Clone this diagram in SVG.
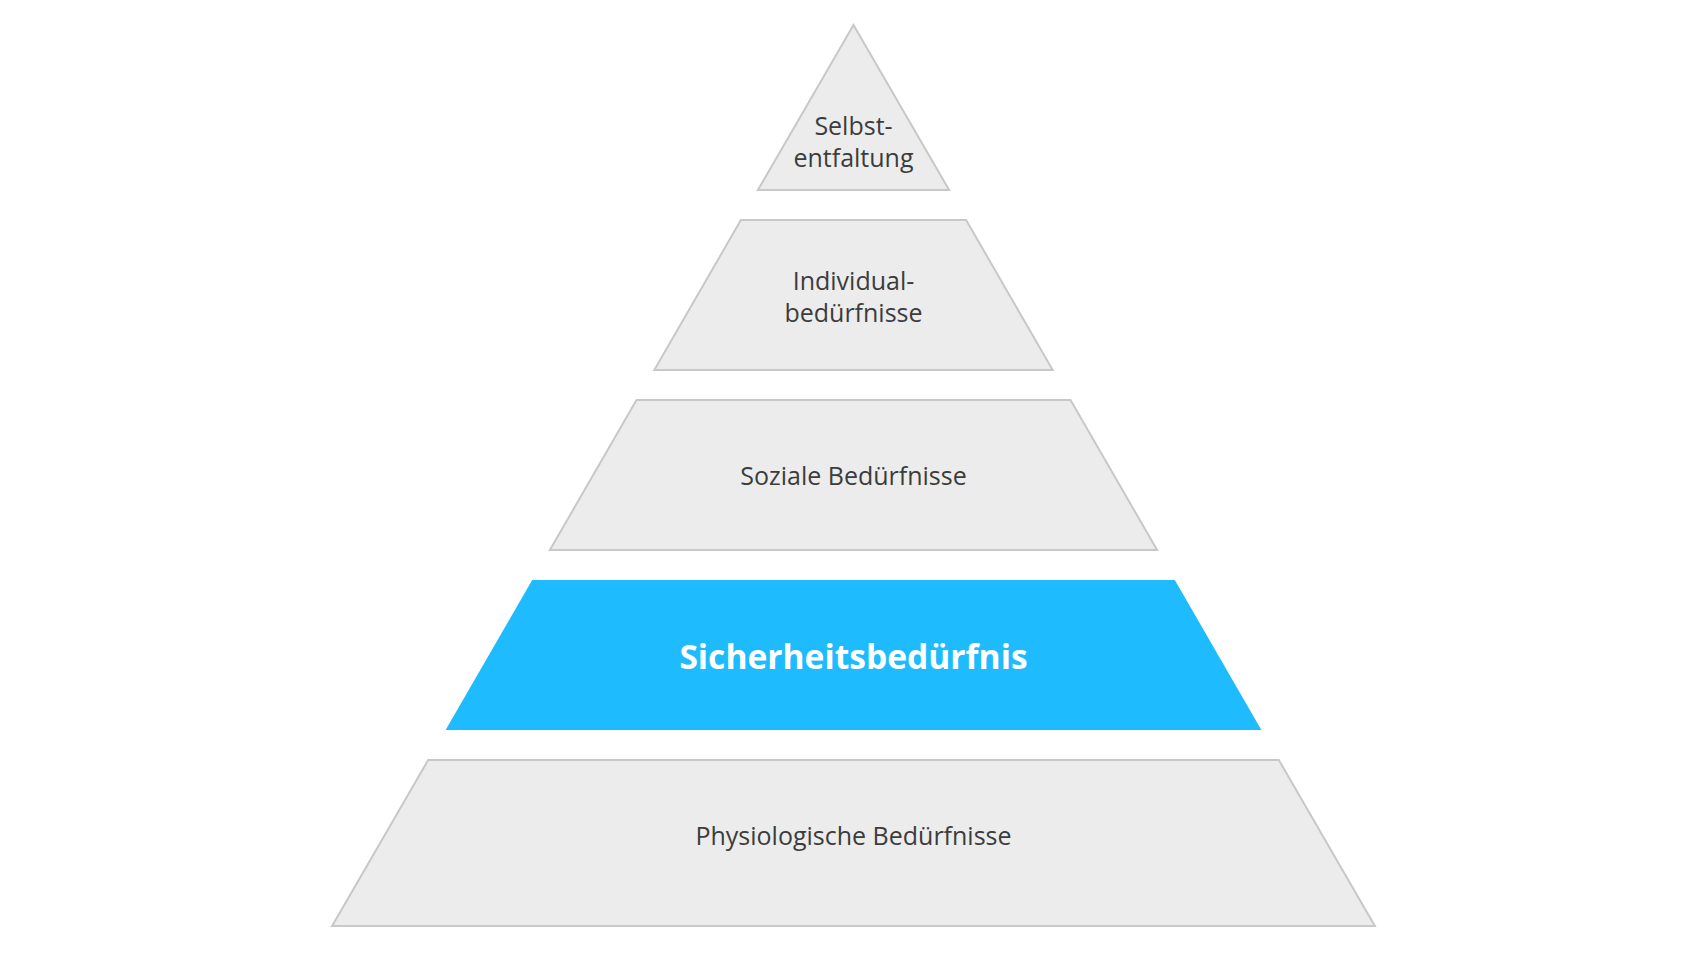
<svg xmlns="http://www.w3.org/2000/svg" width="1707" height="962" viewBox="0 0 1707 962">
<style>
.lvl{fill:#ececec;stroke:#c8c8c8;stroke-width:2;stroke-linejoin:miter}
.hl{fill:#1ebbff}
.t{font-family:"Open Sans","Noto Sans",sans-serif;font-size:25px;fill:#3c3c3c;text-anchor:middle}
.tb{font-family:"Open Sans","Noto Sans",sans-serif;font-size:33.6px;font-weight:bold;fill:#ffffff;text-anchor:middle}
</style>
<rect width="1707" height="962" fill="#ffffff"/>
<g id="selbstentfaltung">
<polygon class="lvl" points="853.5,25 949.1,190 757.9,190"/>
<text class="t" x="853.5" y="135">Selbst-</text>
<text class="t" x="853.5" y="167">entfaltung</text>
</g>
<g id="individualbeduerfnisse">
<polygon class="lvl" points="740.9,220 966.1,220 1052.7,370 654.3,370"/>
<text class="t" x="853.5" y="290">Individual-</text>
<text class="t" x="853.5" y="322">bedürfnisse</text>
</g>
<g id="soziale">
<polygon class="lvl" points="636.5,400 1070.5,400 1157.1,550 549.9,550"/>
<text class="t" x="853.5" y="485">Soziale Bedürfnisse</text>
</g>
<g id="sicherheit">
<polygon class="hl" points="532.2,580 1174.8,580 1261.4,730 445.6,730"/>
<text class="tb" x="853.5" y="669">Sicherheitsbedürfnis</text>
</g>
<g id="physiologisch">
<polygon class="lvl" points="428.2,760 1278.8,760 1374.9,926 332.1,926"/>
<text class="t" x="853.5" y="845">Physiologische Bedürfnisse</text>
</g>
<g id="connectors"></g>
</svg>
